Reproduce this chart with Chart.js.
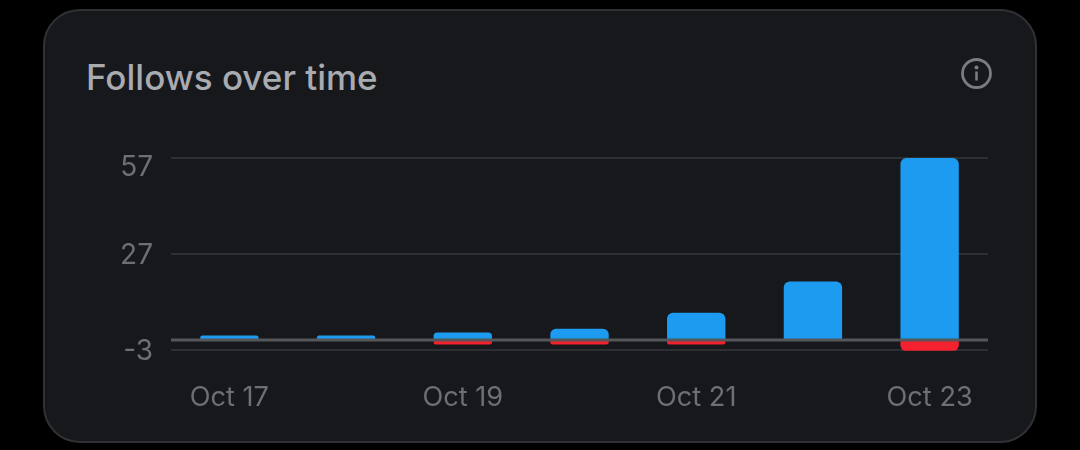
<!DOCTYPE html>
<html>
<head>
<meta charset="utf-8">
<script src="https://cdn.jsdelivr.net/npm/chart.js@4"></script>
<style>
html,body{margin:0;padding:0;background:#000;width:1080px;height:450px;overflow:hidden}
#card{position:absolute;left:43px;top:9px;width:990px;height:430px;background:#17181c;border:2px solid #2f3135;border-radius:37px}
#title{position:absolute;left:86px;top:56px;font:500 35px/42px Inter,Roboto,sans-serif;color:#a8abb0;white-space:nowrap}
#info{position:absolute;left:960px;top:56.5px}
canvas{position:absolute;left:0;top:0}
</style>
</head>
<body>
<div id="card"></div>
<div id="title">Follows over time</div>
<svg id="info" width="33" height="33" viewBox="0 0 33 33">
<circle cx="16.5" cy="16.5" r="14" fill="none" stroke="#797c81" stroke-width="2.8"/>
<circle cx="16.5" cy="10.5" r="2" fill="#797c81"/>
<rect x="15.2" y="14.5" width="2.6" height="9" fill="#797c81"/>
</svg>
<canvas id="c" width="1080" height="450"></canvas>
<script>
const categories = ['Oct 17','Oct 18','Oct 19','Oct 20','Oct 21','Oct 22','Oct 23'];
const shownLabels = ['Oct 17','Oct 19','Oct 21','Oct 23'];
const follows = [1.4,1.4,2.3,3.5,8.5,18.3,57];
const unfollows = [null,null,-1.4,-1.4,-1.4,null,-3.4];
const yTicks = [-3,27,57];

const tickColor = '#6c6f74';
const zeroLine = {
  id:'zeroLine',
  afterDatasetsDraw(chart){
    const {ctx,chartArea,scales} = chart;
    const y = scales.y.getPixelForValue(0);
    ctx.save();
    ctx.strokeStyle = '#55575b';
    ctx.lineWidth = 3;
    ctx.beginPath();
    ctx.moveTo(chartArea.left,y);
    ctx.lineTo(chartArea.right,y);
    ctx.stroke();
    ctx.restore();
  }
};
const shiftLabels = {
  id:'shiftLabels',
  beforeDraw(chart){
    const s = chart.scales.y;
    const nudges = {'57':10,'27':1.5,'-3':2.5};
    for(const it of s.getLabelItems(chart.chartArea)){
      if(!it._moved){ it.options.translation[1]+= nudges[it.label]||0; it._moved=true; }
    }
  }
};
new Chart(document.getElementById('c'),{
  type:'bar',
  data:{labels:categories,datasets:[
    {label:'Follows',data:follows,backgroundColor:'#1d9bf0',borderRadius:{topLeft:6,topRight:6,bottomLeft:0,bottomRight:0},borderSkipped:false,clip:false},
    {label:'Unfollows',data:unfollows,backgroundColor:'#f4212e',borderRadius:{topLeft:0,topRight:0,bottomLeft:6,bottomRight:6},borderSkipped:false,clip:false}
  ]},
  plugins:[zeroLine,shiftLabels],
  options:{
    responsive:false,animation:false,
    layout:{padding:{left:0,right:92,top:158,bottom:0}},
    plugins:{legend:{display:false},tooltip:{enabled:false}},
    datasets:{bar:{barPercentage:.5,categoryPercentage:1}},
    scales:{
      x:{stacked:true,
        grid:{display:false,drawBorder:false},border:{display:false},
        afterFit(s){s.height=100.5;},
        ticks:{autoSkip:false,maxRotation:0,minRotation:0,padding:24,color:tickColor,
          font:{family:'Inter, Roboto, sans-serif',size:27.2},
          callback(v){const l=this.getLabelForValue(v);return shownLabels.includes(l)?l:'';}}
      },
      y:{stacked:true,min:-3,max:57,
        afterFit(s){s.width=171;},
        afterBuildTicks(s){s.ticks=yTicks.map(v=>({value:v}));},
        grid:{color:'#2e2f34',lineWidth:2,drawTicks:false},border:{display:false},
        ticks:{padding:18,color:tickColor,font:{family:'Inter, Roboto, sans-serif',size:28}}
      }
    }
  }
});
</script>
</body>
</html>
